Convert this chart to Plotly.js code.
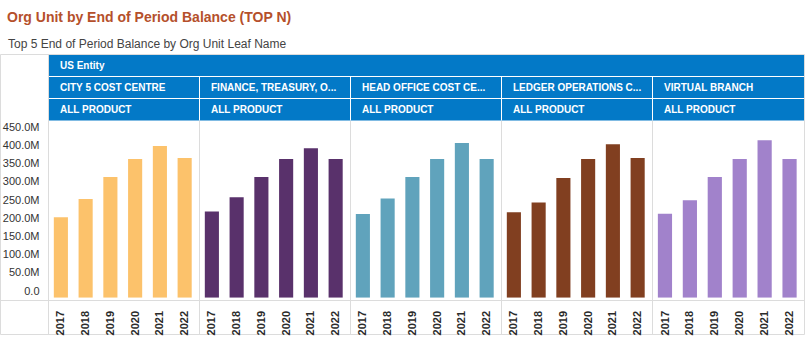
<!DOCTYPE html>
<html><head><meta charset="utf-8">
<script src="https://cdn.plot.ly/plotly-3.0.1.min.js"></script>
<style>html,body{margin:0;padding:0;background:#fff;}#chart{width:810px;height:350px;}</style>
</head><body><div id="chart"></div>
<script>
const years = ['2017','2018','2019','2020','2021','2022'];
const entityName = 'US Entity';
const productName = 'ALL PRODUCT';
const orgUnits = ['CITY 5 COST CENTRE','FINANCE, TREASURY, O...','HEAD OFFICE COST CE...','LEDGER OPERATIONS C...','VIRTUAL BRANCH'];
const city5 = [221e6, 271e6, 332e6, 381e6, 417e6, 384e6];
const finance = [237e6, 276e6, 332e6, 381e6, 411e6, 381e6];
const headOffice = [230e6, 273e6, 332e6, 381e6, 425e6, 381e6];
const ledger = [235e6, 262e6, 329e6, 381e6, 422e6, 384e6];
const virtualBranch = [231e6, 268e6, 332e6, 381e6, 433e6, 381e6];
const yTickVals = [0, 50e6, 100e6, 150e6, 200e6, 250e6, 300e6, 350e6, 400e6, 450e6];
const yTickText = ['0.0','50.0M','100.0M','150.0M','200.0M','250.0M','300.0M','350.0M','400.0M','450.0M'];
const chartTitle = 'Org Unit by End of Period Balance (TOP N)';
const chartSubtitle = 'Top 5 End of Period Balance by Org Unit Leaf Name';

const seriesList = [city5, finance, headOffice, ledger, virtualBranch];
const barColors = ['#fcc26b', '#59316b', '#60a3bc', '#813f20', '#a182cb'];

const W = 810, H = 350;
const px = x => x / W;
const py = y => 1 - y / H;
const edges = [48.5, 199.5, 350.5, 501.5, 652.5, 804.5];
const FONT = 'Liberation Sans, Arial, sans-serif';
const BLUE = '#0379c7';
const GRID = '#dcdcdc';

const traces = seriesList.map((vals, i) => ({
  type: 'bar',
  x: years,
  y: vals,
  xaxis: i === 0 ? 'x' : 'x' + (i + 1),
  yaxis: 'y',
  marker: {color: barColors[i]},
  hoverinfo: 'x+y',
  showlegend: false
}));

const layout = {
  width: W, height: H,
  margin: {l: 0, r: 0, t: 0, b: 0},
  paper_bgcolor: '#fff', plot_bgcolor: 'rgba(0,0,0,0)',
  bargap: 0.43,
  showlegend: false,
  font: {family: FONT, color: '#333'},
  yaxis: {
    anchor: 'x', domain: [py(297.7), py(121)],
    range: [0, 485.7e6], fixedrange: true,
    tickvals: yTickVals, ticktext: yTickText,
    showgrid: false, zeroline: false, showline: false, ticks: '',
    tickfont: {family: FONT, size: 11, color: '#333'},
    ticklabelshift: -7, ticklabelstandoff: 8
  },
  shapes: [], annotations: []
};

for (let i = 0; i < 5; i++) {
  const key = i === 0 ? 'xaxis' : 'xaxis' + (i + 1);
  layout[key] = {
    domain: [px(edges[i]), px(edges[i + 1])],
    anchor: 'y', range: [-0.5, 5.6], type: 'category',
    showgrid: false, zeroline: false, showline: false, ticks: '',
    tickangle: -90,
    tickfont: {family: FONT, size: 11, color: '#2b2b2b', weight: 700},
    ticklabelstandoff: 10, fixedrange: true
  };
}

const S = layout.shapes;
const line = (x0, y0, x1, y1, color, layer) => S.push({type: 'line', xref: 'paper', yref: 'paper',
  x0: px(x0), y0: py(y0), x1: px(x1), y1: py(y1), line: {color: color, width: 1}, layer: layer || 'above'});
// outer borders
line(0.5, 54.5, 804.5, 54.5, GRID, 'below');
line(0.5, 334.5, 804.5, 334.5, GRID, 'below');
line(0.5, 54.5, 0.5, 334.5, GRID, 'below');
line(804.5, 54.5, 804.5, 334.5, GRID, 'below');
line(48.5, 54.5, 48.5, 334.5, GRID, 'below');
line(0.5, 300.5, 804.5, 300.5, GRID, 'below');
for (let i = 1; i < 5; i++) line(edges[i], 120.5, edges[i], 334.5, GRID, 'below');
// header
S.push({type: 'rect', xref: 'paper', yref: 'paper', x0: px(49), x1: px(804), y0: py(55), y1: py(120.5),
  fillcolor: BLUE, line: {width: 0}, layer: 'below'});
line(49, 76.5, 804, 76.5, '#ffffff');
line(49, 98.5, 804, 98.5, '#ffffff');
for (let i = 1; i < 5; i++) line(edges[i], 76.5, edges[i], 120.5, '#ffffff');

const A = layout.annotations;
const label = (text, x, y, size, color, weight) => A.push({text: text, xref: 'paper', yref: 'paper',
  x: px(x), y: py(y), xanchor: 'left', yanchor: 'middle', showarrow: false,
  font: {family: FONT, size: size, color: color, weight: weight || 400}});
label(chartTitle, 5, 16.5, 14, '#b5502b', 700);
label(chartSubtitle, 5.5, 43.5, 12, '#444444', 400);
label(entityName, 58, 65.5, 10, '#ffffff', 700);
for (let i = 0; i < 5; i++) {
  label(orgUnits[i], edges[i] + 9.5, 87.5, 10, '#ffffff', 700);
  label(productName, edges[i] + 9.5, 109.5, 10, '#ffffff', 700);
}

Plotly.newPlot('chart', traces, layout, {displayModeBar: false, staticPlot: true});
</script></body></html>
